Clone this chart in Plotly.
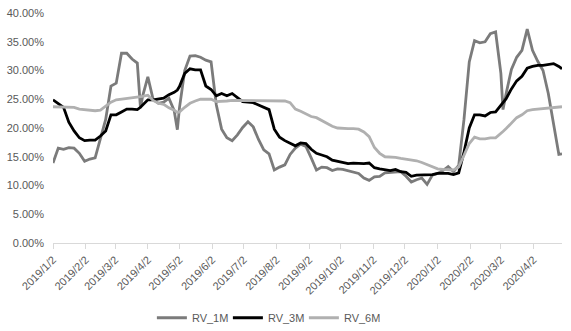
import plotly.graph_objects as go

# Observation dates (roughly every five days, with a few extra dates around sharp moves)
dates = [
    "2019-01-02", "2019-01-07", "2019-01-12", "2019-01-17", "2019-01-22", "2019-01-27",
    "2019-02-01", "2019-02-06", "2019-02-11", "2019-02-16", "2019-02-21", "2019-02-26",
    "2019-03-03", "2019-03-08", "2019-03-13", "2019-03-18", "2019-03-23", "2019-03-26",
    "2019-03-28", "2019-04-02", "2019-04-07", "2019-04-12", "2019-04-17", "2019-04-22",
    "2019-04-27", "2019-04-30", "2019-05-02", "2019-05-07", "2019-05-12", "2019-05-17",
    "2019-05-22", "2019-05-27", "2019-06-01", "2019-06-06", "2019-06-11", "2019-06-16",
    "2019-06-21", "2019-06-26", "2019-07-01", "2019-07-06", "2019-07-11", "2019-07-16",
    "2019-07-21", "2019-07-26", "2019-07-31", "2019-08-05", "2019-08-10", "2019-08-15",
    "2019-08-20", "2019-08-25", "2019-08-30", "2019-09-04", "2019-09-09", "2019-09-14",
    "2019-09-19", "2019-09-24", "2019-09-29", "2019-10-04", "2019-10-09", "2019-10-14",
    "2019-10-19", "2019-10-24", "2019-10-29", "2019-11-03", "2019-11-08", "2019-11-13",
    "2019-11-18", "2019-11-23", "2019-11-28", "2019-12-03", "2019-12-08", "2019-12-13",
    "2019-12-18", "2019-12-23", "2019-12-28", "2020-01-02", "2020-01-07", "2020-01-12",
    "2020-01-17", "2020-01-22", "2020-01-27", "2020-02-01", "2020-02-06", "2020-02-11",
    "2020-02-16", "2020-02-21", "2020-02-26", "2020-03-02", "2020-03-04", "2020-03-07",
    "2020-03-12", "2020-03-17", "2020-03-22", "2020-03-27", "2020-04-01", "2020-04-06",
    "2020-04-11", "2020-04-16", "2020-04-21", "2020-04-26", "2020-04-29",
]

# Realized volatility, in percent
rv_1m = [
    13.9, 16.5, 16.3, 16.6, 16.5, 15.6,
    14.2, 14.6, 14.8, 18.2, 21.5, 27.3,
    27.8, 33.0, 33.0, 32.0, 31.3, 23.5,
    25.5, 28.9, 25.0, 24.3, 24.5, 25.2,
    23.0, 19.7, 23.5, 30.0, 32.5, 32.6,
    32.3, 31.8, 31.5, 24.0, 19.8, 18.3,
    17.8, 18.8, 20.1, 21.1, 20.2, 18.0,
    16.2, 15.5, 12.7, 13.2, 13.6, 15.4,
    16.5, 17.2, 16.8, 14.8, 12.7, 13.2,
    13.1, 12.6, 12.9, 12.8, 12.6, 12.4,
    12.1, 11.3, 10.9, 11.5, 11.6, 12.2,
    12.3, 12.4, 12.4, 11.6, 10.6, 11.0,
    11.3, 10.2, 11.8, 12.1, 12.6, 13.3,
    12.4, 13.5, 21.5, 31.5, 35.2, 34.8,
    35.0, 36.4, 36.7, 29.5, 23.2, 26.0,
    30.2, 32.3, 33.5, 37.2, 33.5, 31.6,
    30.0, 26.0, 21.0, 15.4, 15.5,
]

rv_3m = [
    24.9, 24.2, 23.6, 21.0, 19.5, 18.3,
    17.8, 17.9, 17.9, 18.6, 19.5, 22.3,
    22.3, 22.8, 23.3, 23.3, 23.2, 23.6,
    24.0, 24.9, 24.9, 25.0, 25.2, 25.8,
    26.2, 26.6, 27.2, 29.5, 30.3, 30.1,
    30.1, 27.3, 26.7, 25.6, 26.0, 25.6,
    26.0, 25.3, 24.6, 24.5, 24.4, 24.0,
    23.6, 23.2, 19.8, 18.4, 17.8, 17.3,
    16.9, 17.4, 17.3, 16.3, 15.6, 15.3,
    15.0, 14.4, 14.2, 13.9, 13.8, 13.9,
    13.8, 13.8, 13.9, 13.1, 12.9, 12.7,
    12.6, 12.8, 12.4, 12.3, 11.6, 11.8,
    11.8, 11.8, 11.9, 12.1, 12.1, 12.1,
    11.9, 12.2, 15.8, 20.0, 22.3, 22.3,
    22.1, 22.7, 22.8, 24.0, 24.4, 25.1,
    26.8, 28.2, 29.0, 30.4, 30.7, 30.9,
    30.9, 31.1, 31.2, 30.7, 30.3,
]

rv_6m = [
    23.7, 23.7, 23.7, 23.6, 23.6, 23.3,
    23.2, 23.1, 23.0, 23.1, 23.8, 24.5,
    24.9, 25.0, 25.1, 25.2, 25.3, 25.4,
    25.5, 25.7, 24.8, 24.3, 24.1, 23.5,
    23.1, 22.7, 22.8, 23.6, 24.3, 24.7,
    25.0, 25.0, 25.0, 24.6, 24.6, 24.7,
    24.8, 24.8, 24.8, 24.8, 24.8, 24.8,
    24.8, 24.8, 24.8, 24.8, 24.7, 24.4,
    23.3, 22.9, 22.4, 22.0, 21.8, 21.3,
    20.9, 20.3, 20.0, 19.9, 19.9, 19.9,
    19.8, 19.3, 18.5, 16.6, 15.6, 15.0,
    15.0, 14.9, 14.7, 14.6, 14.5, 14.3,
    14.0, 13.6, 13.3, 12.9, 12.8, 12.7,
    12.7, 13.2, 15.2, 17.3, 18.4, 18.1,
    18.1, 18.3, 18.3, 19.2, 19.4, 19.9,
    20.8, 21.8, 22.3, 23.0, 23.2, 23.3,
    23.4, 23.5, 23.6, 23.7, 23.7,
]

assert len(dates) == len(rv_1m) == len(rv_3m) == len(rv_6m)

# Month ticks on the x axis
tick_dates = [
    "2019-01-02", "2019-02-02", "2019-03-02", "2019-04-02", "2019-05-02", "2019-06-02",
    "2019-07-02", "2019-08-02", "2019-09-02", "2019-10-02", "2019-11-02", "2019-12-02",
    "2020-01-02", "2020-02-02", "2020-03-02", "2020-04-02",
]
tick_labels = [
    "2019/1/2", "2019/2/2", "2019/3/2", "2019/4/2", "2019/5/2", "2019/6/2",
    "2019/7/2", "2019/8/2", "2019/9/2", "2019/10/2", "2019/11/2", "2019/12/2",
    "2020/1/2", "2020/2/2", "2020/3/2", "2020/4/2",
]

series = [
    ("RV_1M", rv_1m, "#7b7b7b"),
    ("RV_3M", rv_3m, "#000000"),
    ("RV_6M", rv_6m, "#b0b0b0"),
]

fig = go.Figure()
for name, values, color in series:
    fig.add_trace(go.Scatter(
        x=dates, y=values, name=name, mode="lines",
        line=dict(color=color, width=2.8),
    ))

font_family = "Liberation Sans, Arial, sans-serif"
label_color = "#595959"

fig.update_layout(
    width=571, height=331,
    margin=dict(l=53, r=9, t=13, b=88, autoexpand=False),
    paper_bgcolor="white", plot_bgcolor="white",
    font=dict(family=font_family, size=11, color=label_color),
    showlegend=True,
    legend=dict(
        orientation="h",
        xref="container", x=0.266, xanchor="left",
        yref="container", y=0.04, yanchor="middle",
        font=dict(size=11, color=label_color),
        entrywidth=31, entrywidthmode="pixels",
        bgcolor="rgba(0,0,0,0)",
    ),
)

fig.update_xaxes(
    type="date",
    range=["2019-01-02", "2020-04-29"],
    tickmode="array", tickvals=tick_dates, ticktext=tick_labels,
    tickangle=-45, automargin=False,
    showgrid=False, zeroline=False,
    showline=True, linecolor="#d9d9d9", linewidth=1,
    ticks="outside", ticklen=5, tickcolor="#d9d9d9",
    tickfont=dict(size=11, color=label_color),
)

fig.update_yaxes(
    range=[0, 40], dtick=5, tick0=0,
    tickformat=".2f", ticksuffix="%", automargin=False,
    showgrid=False, zeroline=False, showline=False,
    ticks="", ticklabelstandoff=8,
    tickfont=dict(size=11, color=label_color),
)

fig.write_html("out.html")
